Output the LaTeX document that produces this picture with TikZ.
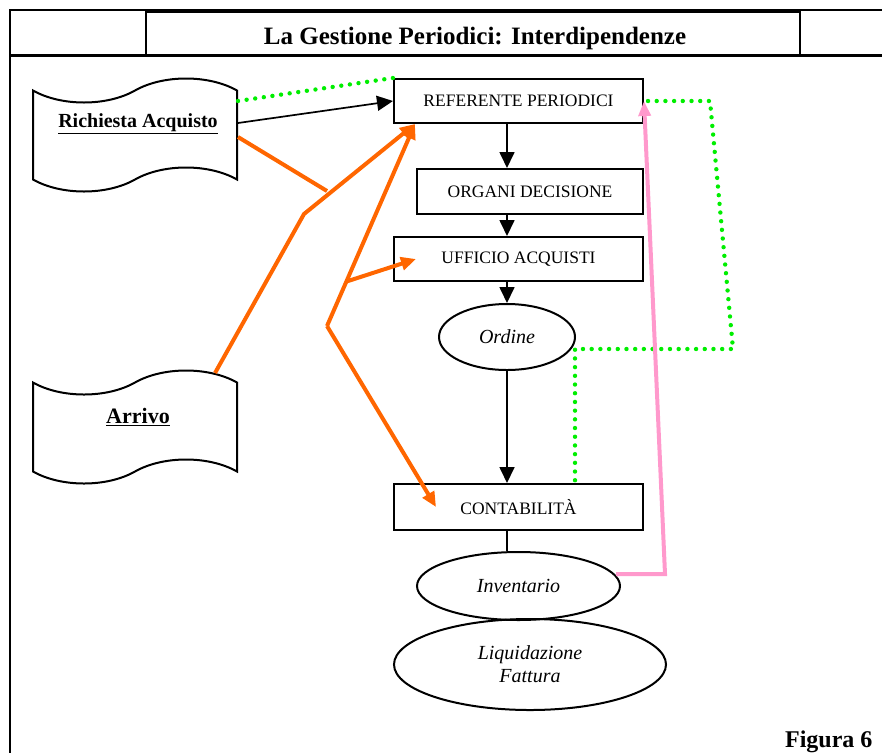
\documentclass[tikz,border=0pt]{standalone}
\usepackage{fontspec}
\setmainfont{Liberation Serif}
\usetikzlibrary{arrows.meta,shapes.geometric,shapes.symbols,calc}
\definecolor{arancio}{HTML}{FF6600}
\definecolor{rosa}{HTML}{FF99CC}
\definecolor{verde}{HTML}{00EE00}
\begin{document}
\begin{tikzpicture}[x=1pt,y=-1pt,
  box/.style={draw,line width=2pt,inner sep=0pt,font=\fontsize{17.5}{20}\selectfont},
  oval/.style={draw,ellipse,line width=2pt,inner sep=0pt,font=\fontsize{20}{23}\selectfont\itshape,align=center},
  doc/.style={draw,tape,line width=2pt,tape bend top=in and out,tape bend bottom=in and out,
    tape bend height=24pt,minimum width=204pt,minimum height=113pt,inner sep=0pt},
  flow/.style={line width=1.7pt,-{Triangle[length=16pt,width=15pt]}},
  orangeline/.style={draw=arancio,line width=4pt},
  orangearrow/.style={orangeline,-{Triangle[length=15pt,width=13pt]}},
  pinkline/.style={draw=rosa,line width=4pt,-{Triangle[length=15pt,width=12pt]}},
  greendots/.style={draw=verde,line width=4.4pt,line cap=round,dash pattern=on 0pt off 8.7pt}]
\useasboundingbox (0,0) rectangle (882,753);
% cornice e intestazione
\draw[line width=2.4pt] (882,10) -- (10,10) -- (10,753);
\draw[line width=3pt] (10,55.5) -- (882,55.5);
\draw[line width=2pt] (146,11.5) rectangle (800,55);
\node[font=\fontsize{25}{28}\selectfont\bfseries] (titolo) at (475,38) {La Gestione Periodici: Interdipendenze};
% documenti
\node[doc] (ric) at (135,135) {};
\node[font=\fontsize{20}{23}\selectfont\bfseries] at (138,124) {\underline{Richiesta Acquisto}};
\node[doc] (arr) at (135,427) {};
\node[font=\fontsize{22}{25}\selectfont\bfseries] at (138,417) {\underline{Arrivo}};
% uffici
\node[box,minimum width=249pt,minimum height=44pt] (ref) at (518.5,101) {REFERENTE PERIODICI};
\node[box,minimum width=226pt,minimum height=45pt] (org) at (530,191.5) {ORGANI DECISIONE};
\node[box,minimum width=249pt,minimum height=44pt] (uff) at (518.5,259) {UFFICIO ACQUISTI};
\node[oval,minimum width=136pt,minimum height=66pt] (ord) at (507,337) {Ordine};
\node[box,minimum width=249pt,minimum height=46pt] (cont) at (518.5,507) {CONTABILIT\`A};
\node[oval,minimum width=203pt,minimum height=68pt] (inv) at (518.5,586) {Inventario};
\node[oval,minimum width=272pt,minimum height=91pt] (liq) at (530,664.5) {Liquidazione\\Fattura};
% flusso principale
\draw[flow] ([yshift=12pt]ric.east) -- (ref.west);
\draw[flow] (ref.south -| ord) -- (org.north -| ord);
\draw[flow] (org.south -| ord) -- (uff.north -| ord);
\draw[flow] (uff.south -| ord) -- (ord.north);
\draw[flow] (ord.south) -- (cont.north -| ord);
\draw[line width=1.7pt] (cont.south -| ord) -- (inv.north -| ord);
% collegamenti tratteggiati
\coordinate (g1) at (710,101);
\coordinate (g2) at (733,349);
\coordinate (g3) at (575,349);
\draw[greendots] ([yshift=34pt]ric.east) -- (ref.north west);
\draw[greendots] ([xshift=4pt]ref.east) -- (g1) -- (g2) -- (g3) -- (g3 |- cont.north);
% collegamenti arancio
\coordinate (o1) at (327,191);
\coordinate (a0) at (215,373);
\coordinate (o2) at (304,214);
\coordinate (o3) at (327,326);
\coordinate (refin) at ([xshift=22pt]ref.south west);
\coordinate (o4) at ($(o3)!0.22!(refin)$);
\draw[orangeline] ([yshift=-2pt]ric.east) -- (o1);
\draw[orangearrow] (a0) -- (o2) -- (refin);
\draw[orangearrow] (o3) -- (refin);
\draw[orangearrow] (o3) -- ([xshift=43pt]cont.west);
\draw[orangearrow] (o4) -- ([xshift=23pt]uff.west);
% ritorno inventario
\coordinate (pk) at (665,574);
\draw[pinkline] ([yshift=12pt,xshift=-5pt]inv.east) -- (pk) -- (ref.east);
\node[font=\fontsize{24}{27}\selectfont\bfseries,anchor=base east] (fig) at (876,747) {Figura 6};
\end{tikzpicture}
\end{document}
